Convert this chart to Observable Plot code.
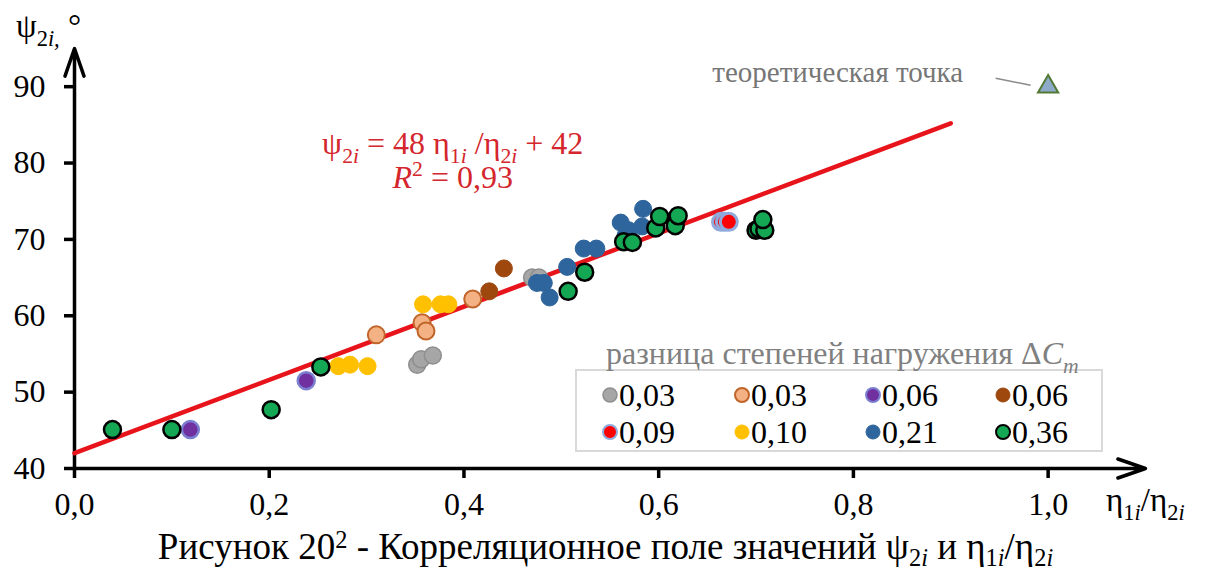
<!DOCTYPE html>
<html lang="ru">
<head>
<meta charset="utf-8">
<script src="https://cdn.jsdelivr.net/npm/d3@7"></script>
<script src="https://cdn.jsdelivr.net/npm/@observablehq/plot@0.6"></script>
<style>
  html, body { margin: 0; padding: 0; background: #fff; }
  #wrap { position: relative; width: 1211px; height: 573px; font-family: "Liberation Serif", "Times New Roman", serif; }
  #caption { width: 1211px; text-align: center; font-size: 37px; line-height: 44px; color: #000; margin-top: 0px; white-space: nowrap; }
  #caption .lo { font-size: 0.66em; position: relative; top: 0.28em; }
  #caption .hi { font-size: 0.66em; position: relative; top: -0.45em; }
</style>
</head>
<body>
<div id="wrap">
  <div id="chart"></div>
  <div id="caption">Рисунок 20<span class="hi">2</span> - Корреляционное поле значений ψ<span class="lo">2<i>i</i></span> и η<span class="lo">1<i>i</i></span>/η<span class="lo">2<i>i</i></span></div>
</div>
<script>
// Axis extents and ticks
const xDomain = [0, 1.1];
const yDomain = [40, 95];
const xTicks = [0, 0.2, 0.4, 0.6, 0.8, 1.0];
const yTicks = [40, 50, 60, 70, 80, 90];

// Series: difference of loading degrees ΔCm, points as [η1i/η2i, ψ2i]
const seriesNames = ["0,03", "0,03", "0,06", "0,06", "0,09", "0,10", "0,21", "0,36"];
const grey003 = [[0.352, 53.6], [0.356, 54.3], [0.368, 54.8], [0.470, 65.0], [0.477, 65.0]];
const peach003 = [[0.310, 57.5], [0.357, 59.1], [0.361, 58.0], [0.409, 62.2]];
const violet006 = [[0.119, 45.1], [0.238, 51.5]];
const brown006 = [[0.426, 63.2], [0.441, 66.2]];
const red009 = [[0.664, 72.3], [0.668, 72.3], [0.672, 72.3]];
const yellow010 = [[0.271, 53.4], [0.283, 53.6], [0.301, 53.4], [0.358, 61.5], [0.376, 61.5], [0.384, 61.5]];
const blue021 = [[0.475, 64.3], [0.482, 64.3], [0.488, 62.4], [0.506, 66.4], [0.523, 68.8], [0.536, 68.8],
                 [0.561, 72.2], [0.566, 70.5], [0.569, 71.2], [0.583, 71.7], [0.584, 74.0]];
const green036 = [[0.039, 45.1], [0.100, 45.1], [0.202, 47.7], [0.253, 53.3], [0.507, 63.2], [0.524, 65.7],
                  [0.564, 69.7], [0.573, 69.6], [0.597, 71.5], [0.601, 73.0], [0.617, 71.8], [0.620, 73.1],
                  [0.700, 71.2], [0.703, 71.4], [0.709, 71.2], [0.707, 72.6]];

// Theoretical point and fitted regression ψ2i = 48·η1i/η2i + 42 (R² = 0,93)
const theoryPoint = [[1.0, 90]];
const fitSlope = 48, fitIntercept = 42, fitR2 = "0,93";
const fitRange = [0, 0.9];

const styles = [
  {fill: "#a6a6a6", stroke: "#8e8e8e", sw: 1.5},
  {fill: "#f4b183", stroke: "#c0642a", sw: 2},
  {fill: "#7030a0", stroke: "#7b80d0", sw: 2.5},
  {fill: "#9e480e", stroke: "#9e480e", sw: 1},
  {fill: "#ff0000", stroke: "#8faadc", sw: 3},
  {fill: "#ffc000", stroke: "#ffc000", sw: 1},
  {fill: "#2e659c", stroke: "#2e659c", sw: 1},
  {fill: "#15a854", stroke: "#000000", sw: 2.5}
];
const seriesData = [grey003, peach003, violet006, brown006, red009, yellow010, blue021, green036];

const serif = "'Liberation Serif', 'Times New Roman', serif";
const fmt = d => d3.format(".1f")(d).replace(".", ",");
const fitLine = fitRange.map(x => [x, fitSlope * x + fitIntercept]);
const axisLines = [
  {x1: xDomain[0], y1: yDomain[0], x2: xDomain[1], y2: yDomain[0]},
  {x1: xDomain[0], y1: yDomain[0], x2: xDomain[0], y2: yDomain[1]}
];

const plot = Plot.plot({
  width: 1211,
  height: 525,
  marginLeft: 74,
  marginRight: 66,
  marginTop: 48,
  marginBottom: 57,
  style: {fontFamily: serif, color: "#000", background: "#fff", overflow: "visible"},
  x: {domain: xDomain},
  y: {domain: yDomain},
  marks: [
    Plot.axisX({ticks: xTicks, tickFormat: fmt, tickSize: 10, tickPadding: 14, strokeWidth: 3.5, fontSize: 32, label: null}),
    Plot.axisY({ticks: yTicks, tickSize: 10, tickPadding: 19, strokeWidth: 3.5, fontSize: 32, label: null}),
    // arrowhead length in Plot is headLength / 1.5 × strokeWidth
    Plot.arrow(axisLines, {x1: "x1", y1: "y1", x2: "x2", y2: "y2", stroke: "#000", strokeWidth: 3.5, headLength: 12.5, headAngle: 38}),
    Plot.line(fitLine, {x: d => d[0], y: d => d[1], stroke: "#e8141b", strokeWidth: 4.5}),
    ...seriesData.map((data, i) => Plot.dot(data, {
      x: d => d[0], y: d => d[1], r: 8.5,
      fill: styles[i].fill, stroke: styles[i].stroke, strokeWidth: styles[i].sw
    })),
    Plot.dot(theoryPoint, {x: d => d[0], y: d => d[1], symbol: "triangle", r: 7.5, fill: "#8eaacb", stroke: "#527a36", strokeWidth: 2}),
    Plot.text(theoryPoint, {x: d => d[0], y: d => d[1], text: () => "теоретическая точка", textAnchor: "end", dx: -85, dy: -14, fill: "#767676", fontSize: 29})
  ]
});

document.getElementById("chart").appendChild(plot);

const svg = d3.select(plot);
const sx = plot.scale("x").apply, sy = plot.scale("y").apply;

// Writes a run of text pieces, with subscripts / superscripts as shifted tspans
function rich(textSel, parts, size) {
  textSel.attr("font-family", serif).attr("font-size", size);
  let shift = 0;
  parts.forEach(p => {
    const target = p.sub ? size * 0.28 : p.sup ? -size * 0.38 : 0;
    const ts = textSel.append("tspan").text(p.t).attr("dy", target - shift);
    shift = target;
    if (p.sub || p.sup) ts.attr("font-size", size * 0.68);
    if (p.it) ts.attr("font-style", "italic");
  });
}

// Leader line from the label to the theoretical point
const [tx, ty] = [sx(theoryPoint[0][0]), sy(theoryPoint[0][1])];
svg.append("line").attr("x1", tx - 52).attr("y1", ty - 8).attr("x2", tx - 17).attr("y2", ty - 1)
  .attr("stroke", "#8a8a8a").attr("stroke-width", 1.5);

// Regression equation
const eq = svg.append("g").attr("fill", "#d4262c").attr("text-anchor", "middle");
const eqX = sx(0.389);
rich(eq.append("text").attr("x", eqX).attr("y", 154), [
  {t: "ψ"}, {t: "2", sub: true}, {t: "i", sub: true, it: true},
  {t: " = " + fitSlope + " η"}, {t: "1", sub: true}, {t: "i", sub: true, it: true},
  {t: " /η"}, {t: "2", sub: true}, {t: "i", sub: true, it: true}, {t: " + " + fitIntercept}
], 32);
rich(eq.append("text").attr("x", eqX).attr("y", 188), [
  {t: "R", it: true}, {t: "2", sup: true}, {t: " = " + fitR2}
], 32);

// Axis titles
rich(svg.append("text").attr("text-anchor", "start").attr("x", 16).attr("y", 37), [
  {t: "ψ"}, {t: "2", sub: true}, {t: "i,", sub: true, it: true}, {t: " °"}
], 33);
rich(svg.append("text").attr("text-anchor", "start").attr("x", 1106).attr("y", 511), [
  {t: "η"}, {t: "1", sub: true}, {t: "i", sub: true, it: true}, {t: "/η"}, {t: "2", sub: true}, {t: "i", sub: true, it: true}
], 33);

// Legend
const lg = svg.append("g").attr("text-anchor", "start");
lg.append("rect").attr("x", 576).attr("y", 370).attr("width", 526).attr("height", 81)
  .attr("fill", "#fff").attr("stroke", "#d9d9d9").attr("stroke-width", 2);
rich(lg.append("text").attr("x", 606).attr("y", 364).attr("fill", "#808080"), [
  {t: "разница степеней нагружения Δ"}, {t: "C", it: true}, {t: "m", sub: true, it: true}
], 32);
const colX = [610, 742, 873, 1003], rowY = [395, 432];
seriesNames.forEach((name, i) => {
  const cx = colX[i % 4], cy = rowY[Math.floor(i / 4)];
  lg.append("circle").attr("cx", cx).attr("cy", cy).attr("r", 7)
    .attr("fill", styles[i].fill).attr("stroke", styles[i].stroke).attr("stroke-width", Math.min(styles[i].sw, 2));
  lg.append("text").attr("x", cx + 9).attr("y", cy + 11).attr("font-family", serif).attr("font-size", 32).text(name);
});
</script>
</body>
</html>
